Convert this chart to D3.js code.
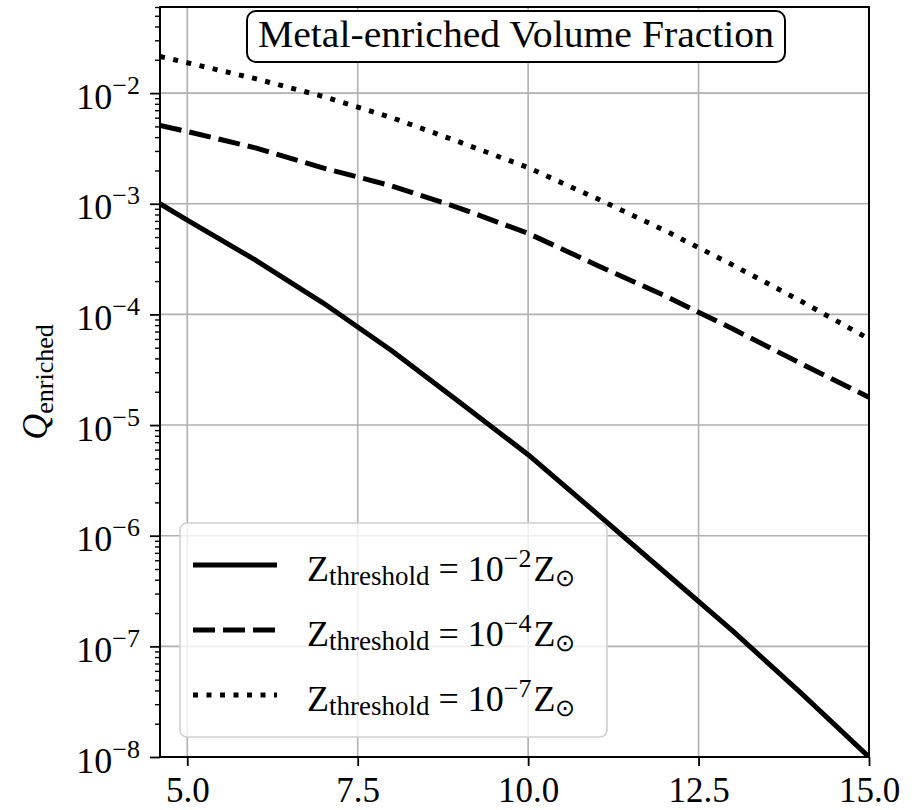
<!DOCTYPE html>
<html>
<head>
<meta charset="utf-8">
<script src="https://cdn.jsdelivr.net/npm/d3@7"></script>
<style>
  html, body { margin: 0; padding: 0; background: #ffffff; }
  svg { display: block; }
  text { font-family: "Liberation Serif", "Times New Roman", serif; fill: #000; }
</style>
</head>
<body>
<svg id="chart" width="912" height="810"></svg>
<script>
// Redshift grid and volume-filling fractions of enriched gas
const redshift = [4.6, 5, 6, 7, 8, 9, 10, 11, 12, 13, 14, 15];
const qZ2 = [1.0e-3, 7.1e-4, 3.1e-4, 1.26e-4, 4.7e-5, 1.6e-5, 5.4e-6, 1.6e-6, 4.7e-7, 1.38e-7, 3.8e-8, 1.0e-8];
const qZ4 = [5.1e-3, 4.5e-3, 3.2e-3, 2.1e-3, 1.45e-3, 9.1e-4, 5.4e-4, 2.8e-4, 1.48e-4, 7.4e-5, 3.6e-5, 1.78e-5];
const qZ7 = [2.14e-2, 1.88e-2, 1.35e-2, 9.3e-3, 6.0e-3, 3.6e-3, 2.12e-3, 1.12e-3, 5.75e-4, 2.8e-4, 1.32e-4, 6.0e-5];

const seriesExponents = ["−2", "−4", "−7"];
const seriesDash = ["none", "22,8", "5,8.5"];
const xTicks = [5.0, 7.5, 10.0, 12.5, 15.0];
const xTickLabels = ["5.0", "7.5", "10.0", "12.5", "15.0"];
const yTicks = [1e-8, 1e-7, 1e-6, 1e-5, 1e-4, 1e-3, 1e-2];
const yTickExponents = ["−8", "−7", "−6", "−5", "−4", "−3", "−2"];
const titleText = "Metal-enriched Volume Fraction";

const svg = d3.select("#chart");
const L = 160, R = 869, T = 7, B = 757;

const x = d3.scaleLinear().domain([4.6, 15]).range([L, R]);
const y = d3.scaleLog().domain([1e-8, 0.06]).range([B, T]);

// grid
const grid = svg.append("g");
grid.selectAll("line.gx").data(xTicks).join("line")
  .attr("x1", d => x(d)).attr("x2", d => x(d)).attr("y1", T).attr("y2", B)
  .attr("stroke", "#b0b0b0").attr("stroke-width", 1.6);
grid.selectAll("line.gy").data(yTicks).join("line")
  .attr("y1", d => y(d)).attr("y2", d => y(d)).attr("x1", L).attr("x2", R)
  .attr("stroke", "#b0b0b0").attr("stroke-width", 1.6);

// curves
svg.append("clipPath").attr("id", "plotclip").append("rect")
  .attr("x", L).attr("y", T).attr("width", R - L).attr("height", B - T);

const series = [qZ2, qZ4, qZ7];
const line = d3.line().x(d => x(d[0])).y(d => y(d[1]));
const curves = svg.append("g").attr("clip-path", "url(#plotclip)");
series.forEach((vals, i) => {
  curves.append("path")
    .attr("d", line(redshift.map((z, j) => [z, vals[j]])))
    .attr("fill", "none").attr("stroke", "#000").attr("stroke-width", 5)
    .attr("stroke-dasharray", seriesDash[i]).attr("stroke-linecap", "butt")
    .attr("stroke-linejoin", "round");
});

// axes: ticks on left and bottom only
const xAxis = d3.axisBottom(x).tickValues(xTicks).tickSize(9).tickFormat((d, i) => xTickLabels[i]);
const gx = svg.append("g").attr("transform", `translate(0,${B})`).call(xAxis);
gx.select(".domain").remove();
gx.selectAll(".tick line").attr("stroke", "#000").attr("stroke-width", 1.8);
gx.selectAll(".tick text").attr("font-size", 35).attr("dy", 0).attr("y", 45);

const minorY = [];
for (let e = -8; e <= -2; e++) for (let m = 2; m <= 9; m++) {
  const v = m * Math.pow(10, e);
  if (v <= 0.0601) minorY.push(v);
}
const gyMinor = svg.append("g").attr("transform", `translate(${L},0)`)
  .call(d3.axisLeft(y).tickValues(minorY).tickSize(5).tickFormat(""));
gyMinor.select(".domain").remove();
gyMinor.selectAll(".tick line").attr("stroke", "#000").attr("stroke-width", 1.4);

const gy = svg.append("g").attr("transform", `translate(${L},0)`)
  .call(d3.axisLeft(y).tickValues(yTicks).tickSize(10).tickFormat(""));
gy.select(".domain").remove();
gy.selectAll(".tick line").attr("stroke", "#000").attr("stroke-width", 1.8);
gy.selectAll(".tick").each(function (d, i) {
  const t = d3.select(this).append("text")
    .attr("x", -20).attr("y", 0).attr("text-anchor", "end")
    .attr("font-size", 36);
  t.append("tspan").attr("dy", 15).text("10");
  t.append("tspan").attr("font-size", 26).attr("dy", -15).text(yTickExponents[i]);
});

// frame
svg.append("rect").attr("x", L).attr("y", T).attr("width", R - L).attr("height", B - T)
  .attr("fill", "none").attr("stroke", "#000").attr("stroke-width", 2);

// y label
const yl = svg.append("text").attr("transform", `translate(47,${(T + B) / 2}) rotate(-90)`)
  .attr("text-anchor", "middle").attr("font-size", 36);
yl.append("tspan").attr("font-style", "italic").text("Q");
yl.append("tspan").attr("font-size", 26).attr("dy", 6).text("enriched");

// title box
const titleG = svg.append("g");
titleG.append("rect")
  .attr("x", 247).attr("y", 11).attr("width", 538).attr("height", 51)
  .attr("rx", 9).attr("ry", 9)
  .attr("fill", "#fff").attr("stroke", "#000").attr("stroke-width", 2);
titleG.append("text").attr("x", 516).attr("y", 47).attr("text-anchor", "middle")
  .attr("font-size", 37).attr("textLength", 516).attr("lengthAdjust", "spacingAndGlyphs")
  .text(titleText);

// legend
const lg = svg.append("g");
lg.append("rect").attr("x", 180).attr("y", 523).attr("width", 427).attr("height", 214)
  .attr("rx", 7).attr("ry", 7)
  .attr("fill", "rgba(255,255,255,0.8)").attr("stroke", "#d0d0d0").attr("stroke-width", 1.6);
const rowY = [565, 630, 695];
series.forEach((vals, i) => {
  const ry = rowY[i];
  lg.append("line").attr("x1", 193).attr("x2", 277).attr("y1", ry).attr("y2", ry)
    .attr("stroke", "#000").attr("stroke-width", 5)
    .attr("stroke-dasharray", seriesDash[i]);
  const t = lg.append("text").attr("x", 307).attr("y", ry + 16).attr("font-size", 36);
  t.append("tspan").text("Z");
  t.append("tspan").attr("font-size", 27).attr("dy", 4).text("threshold");
  t.append("tspan").attr("dy", -4).attr("dx", 9).text("=");
  t.append("tspan").attr("dx", 9).text("10");
  t.append("tspan").attr("font-size", 26).attr("dy", -14).text(seriesExponents[i]);
  t.append("tspan").attr("dy", 14).attr("dx", 2).text("Z");
  t.append("tspan").attr("font-size", 24).attr("dy", 5).text("⊙");
});
</script>
</body>
</html>
